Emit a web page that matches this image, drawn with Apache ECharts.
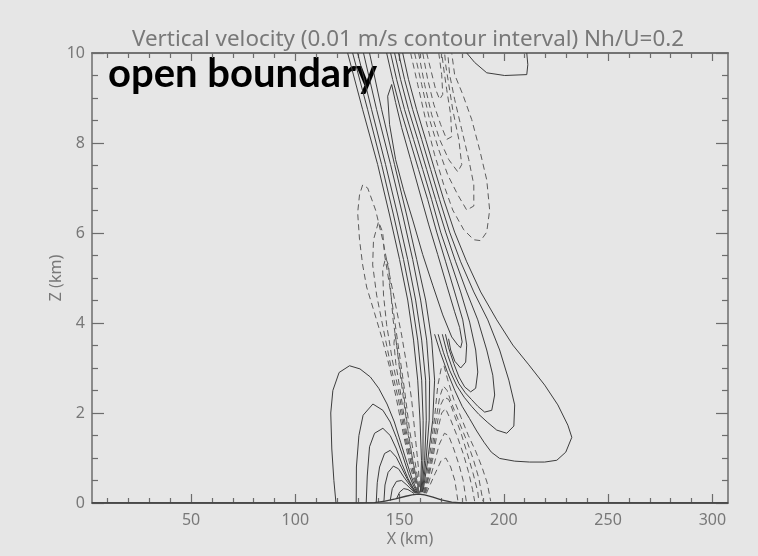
<!DOCTYPE html>
<html>
<head>
<meta charset="utf-8">
<script src="https://cdn.jsdelivr.net/npm/echarts@6.0.0/dist/echarts.min.js"></script>
<style>
  html, body { margin: 0; padding: 0; background: #e6e6e6; }
  #chart { width: 758px; height: 556px; }
</style>
</head>
<body>
<div id="chart"></div>
<script>
// axis ranges and tick values (km)
var xRange = [2.5, 307.5];
var zRange = [0, 10];
var xMajorTicks = [50, 100, 150, 200, 250, 300];
var xMinorTicks = [10, 20, 30, 40, 60, 70, 80, 90, 110, 120, 130, 140, 160, 170, 180, 190,
                   210, 220, 230, 240, 260, 270, 280, 290];

// terrain (hill near x=159 km)
var terrain = [[2.5,0],[130,0],[138,0.01],[143,0.04],[148,0.09],[153,0.15],[156,0.18],[159,0.2],
               [162,0.18],[166,0.13],[170,0.07],[175,0.02],[180,0],[307.5,0]];

// upwind positive lobe (solid), outer to inner
var lobeA1 = [[119.5,0],[118.5,0.5],[117.5,1.2],[117,2.0],[118,2.5],[121,2.9],[126,3.05],[131,2.98],[136,2.8],
              [140,2.55],[144,2.2],[147.5,1.8],[150.5,1.35],[153.5,0.9],[156.3,0.5],[158.8,0.22]];
var lobeA2 = [[129.2,0],[129.3,0.8],[130.5,1.5],[132.5,1.95],[137.2,2.2],[142,2.06],[145.5,1.8],[148.5,1.45],
              [151.5,1.05],[154.3,0.65],[156.5,0.4],[158.5,0.22]];
var lobeA3 = [[134,0],[134.5,0.6],[135.6,1.25],[138,1.55],[142,1.66],[145.5,1.5],[148.5,1.2],[151.3,0.85],
              [154,0.55],[156.3,0.35],[158.2,0.22]];
var lobeA4 = [[138.8,0.01],[139.3,0.45],[140.4,0.8],[142.8,1.1],[145.5,1.17],[148.4,1.02],[151,0.78],[153.5,0.55],
              [155.8,0.37],[157.9,0.22]];
var lobeA5 = [[142.5,0.03],[143,0.4],[144.5,0.68],[147,0.82],[149.5,0.76],[152,0.58],[154.5,0.42],[157.6,0.22]];
var lobeA6 = [[145.5,0.05],[146.5,0.32],[148.5,0.48],[151,0.5],[153.5,0.4],[155.5,0.31],[157.3,0.22]];
var lobeA7 = [[148.5,0.09],[150,0.24],[152,0.32],[154,0.3],[155.7,0.25],[157,0.21]];

// tilted updraft band (solid), left flank lines from the top down to the hill
var bandB1 = [[125.1,10],[132.3,8.74],[139.5,7.52],[145.2,6.40],[150.0,5.41],[153.9,4.51],[156.7,3.62],[158.7,2.73],[159.8,1.84],[160.5,0.95],[160.0,0.24]];
var bandB2 = [[127.5,10],[134.7,8.74],[141.4,7.52],[147.1,6.40],[151.9,5.41],[155.8,4.51],[158.7,3.62],[160.6,2.73],[161.3,1.84],[161.2,0.95],[160.3,0.24]];
var bandB3 = [[129.9,10],[136.6,8.74],[143.3,7.52],[149.1,6.40],[153.9,5.41],[157.7,4.51],[160.6,3.62],[162.5,2.73],[162.8,1.84],[162.0,0.95],[160.6,0.24]];
var bandB4 = [[132.7,10],[139.0,8.74],[145.7,7.52],[151.5,6.40],[156.3,5.41],[160.1,4.51],[163.0,3.62],[164.4,2.73],[164.2,1.84],[162.7,0.95],[160.9,0.24]];
var bandB5 = [[135.6,10],[141.4,8.74],[147.6,7.52],[153.4,6.40],[158.2,5.41],[162.5,4.51],[165.4,3.62],[166.8,2.73],[165.9,1.84],[163.5,0.95],[161.2,0.24]];

// inner tongue (closed, solid)
var tongueT1 = [[146.2,9.30],[144.3,9.04],[145.2,8.41],[148.1,7.63],[151.9,6.96],[156.3,6.29],[161.1,5.52],[165.9,4.84],
                [170.7,4.18],[175.0,3.69],[177.9,3.51],[179.3,3.45],[180.0,3.58],[178.8,3.90],[176.4,4.25],[172.6,4.84],
                [168.3,5.52],[164.0,6.18],[159.6,6.91],[155.3,7.63],[151.0,8.34],[148.1,8.90],[146.2,9.30]];

// right flank lines of the band with their lower lobes (solid), outer to inner
var lobeR1 = [[151.5,10],[154.3,9.41],[158.2,8.74],[162.5,8.08],[166.8,7.41],[171.2,6.74],[176.4,6.02],[182.2,5.36],
              [188.9,4.69],[196.6,4.07],[204.3,3.51],[212.0,3.07],[219.6,2.62],[225.9,2.18],[230.7,1.73],[232.6,1.46],
              [229.7,1.13],[225.4,0.95],[219.6,0.91],[212.4,0.91],[205.2,0.93],[198.0,0.99],[194,1.13],[190.5,1.35],
              [187,1.6],[183.5,1.88],[180,2.15],[176.5,2.5],[173,2.9],[169.5,3.35],[166.8,3.75]];
var lobeR2 = [[149.5,10],[152.4,9.41],[156.3,8.74],[160.6,8.08],[164.9,7.41],[169.2,6.74],[174.0,6.02],[179.3,5.36],
              [185.6,4.69],[192.3,4.07],[198.0,3.40],[202.4,2.73],[205.2,2.18],[204.8,1.71],[201.4,1.55],[196.6,1.62],
              [192,1.8],[188,1.97],[184.5,2.15],[181,2.35],[177.5,2.6],[174,2.95],[171,3.35],[168.5,3.75]];
var lobeR3 = [[147.6,10],[150.5,9.41],[154.3,8.74],[158.7,8.08],[163.0,7.41],[167.3,6.74],[172.1,6.02],[176.9,5.36],
              [182.2,4.69],[187.5,4.07],[191.8,3.40],[194.7,2.84],[195.6,2.40],[194.2,2.06],[190.8,2.02],[187.5,2.15],
              [184.5,2.3],[181.5,2.45],[178.5,2.65],[176,2.9],[173,3.3],[170.5,3.75]];
var lobeR4 = [[145.7,10],[148.6,9.41],[152.4,8.74],[156.7,8.08],[161.1,7.41],[165.4,6.74],[169.7,6.02],[174.5,5.36],
              [179.3,4.69],[183.6,4.02],[186.5,3.40],[187.5,2.91],[186.5,2.55],[184.1,2.47],[181.2,2.58],[178.5,2.8],
              [176,3.1],[173.5,3.45],[172,3.75]];
var lobeR5 = [[143.8,10],[146.7,9.41],[150.5,8.74],[154.8,8.08],[159.1,7.41],[163.5,6.74],[167.8,6.02],[172.1,5.36],
              [176.4,4.69],[180.3,4.07],[182.2,3.51],[181.7,3.13],[179.3,3.0],[176.5,3.15],[174.5,3.4],[173.5,3.65]];

// small positive loop at the top boundary (solid)
var topLoop = [[182.2,10],[186.0,9.79],[191.8,9.56],[200.4,9.50],[211.0,9.52],[211.5,9.74],[211.0,10]];

// negative band left of the updraft (dashed), outer to inner
var negD1a = [[159.0,0.22],[157.3,0.45],[155,0.84],[151.9,1.51],[148.6,2.29],[145.2,3.02],[141.4,3.69],[138.0,4.22],
              [134.2,4.80],[132.3,5.29],[130.8,5.85],[129.9,6.45],[130.8,6.85],[132.3,7.07],[134.7,7.00],[138.5,6.51],
              [141.9,5.85],[145.2,5.07],[148.1,4.40],[151.0,3.73],[153.4,3.07],[155.8,2.29],[157.7,1.40],[159.0,0.8],[159.75,0.22]];
var negD1b = [[159.15,0.22],[157.8,0.45],[156,0.8],[152.9,1.40],[149.5,2.29],[145.7,3.07],[142.3,3.85],[139.0,4.62],
              [137.1,5.29],[137.5,5.85],[139.9,6.25],[141.9,6.02],[142.8,5.52],[145.2,4.84],[147.6,4.07],[150.0,3.29],
              [152.4,2.51],[154.8,1.62],[157.5,0.9],[158.8,0.5],[159.6,0.22]];
var negD1c = [[159.3,0.22],[157.3,0.55],[155,1.0],[152.6,1.62],[149.9,2.40],[146.5,3.18],[143.8,3.96],[142.3,4.62],
              [141.9,5.18],[143.3,5.45],[144.7,5.29],[145.7,4.74],[146.9,4.07],[149.3,3.29],[151.8,2.51],[154,1.62],
              [156.3,0.95],[158.3,0.5],[159.45,0.22]];
var negD1d = [[159.35,0.22],[157.5,0.6],[155.4,1.05],[153.2,1.6],[150.8,2.35],[148.2,3.1],[147.3,3.55],[147.8,3.75],
              [148.6,3.5],[150.2,2.9],[152.2,2.2],[154.2,1.5],[156.2,0.98],[158.2,0.52],[159.4,0.22]];

// negative loops right of the band near the top (dashed), inner to outer
var negD2a = [[163.0,10],[164.9,9.64],[167.3,9.19],[169.2,8.97],[170.7,9.08],[170.2,9.52],[168.8,10]];
var negD2b = [[161.1,10],[163.5,9.41],[166.4,8.86],[169.7,8.41],[172.6,8.08],[175.0,8.14],[174.5,8.63],[172.6,9.19],[171.2,9.64],[170.2,10]];
var negD2c = [[159.1,10],[162.0,9.30],[165.4,8.63],[169.2,8.08],[173.6,7.63],[177.9,7.36],[179.8,7.52],[178.4,8.08],
              [175.5,8.74],[173.6,9.30],[172.1,9.74],[171.6,10]];
var negD2d = [[157.2,10],[160.6,9.30],[164.4,8.52],[168.8,7.85],[173.1,7.29],[177.9,6.85],[182.2,6.51],[185.6,6.60],
              [185.6,7.07],[183.2,7.63],[179.8,8.30],[176.4,8.97],[174.0,9.52],[173.1,10]];
var negD2e = [[155.3,10],[158.7,9.30],[162.5,8.52],[166.8,7.74],[171.2,7.07],[175.5,6.51],[180.8,6.07],[185.6,5.85],
              [188.9,5.83],[191.8,6.02],[193.2,6.51],[191.8,7.18],[188.4,7.85],[184.6,8.52],[180.3,9.08],[176.4,9.52],[175.0,10]];

// lee-side negative region near the ground (dashed), outer to inner
var negD3a = [[161.6,0.22],[164.3,1.0],[166.8,1.9],[168.3,2.6],[170,3.0],[171.3,3.05],[173,2.75],[176,2.3],[179.5,1.9],
              [183,1.5],[186.5,1.15],[189.5,0.8],[192,0.45],[193.7,0.04]];
var negD3b = [[161.9,0.22],[165,1.0],[167.3,1.8],[169.2,2.35],[171,2.6],[172.8,2.5],[175.5,2.15],[179,1.75],[182.5,1.35],
              [185.5,0.95],[188,0.55],[190,0.04]];
var negD3c = [[162.05,0.22],[165.4,0.97],[167.8,1.7],[169.7,2.18],[171.5,2.35],[173.6,2.3],[176.3,1.95],[179.5,1.55],
              [182.8,1.05],[185.3,0.65],[187.5,0.25],[188,0.04]];
var negD3d = [[162.2,0.22],[165.8,0.95],[168.2,1.6],[170.2,2.0],[172,2.1],[174.5,1.85],[177.5,1.5],[180.5,1.1],[183,0.7],
              [185,0.3],[186,0.04]];
var negD3e = [[162.5,0.22],[166.5,0.85],[169,1.3],[171.5,1.55],[173.5,1.5],[176,1.2],[178.5,0.85],[180.5,0.5],[182,0.04]];
var negD3f = [[162.8,0.21],[167,0.65],[170,0.95],[172.2,1.0],[174.5,0.8],[176.5,0.5],[178,0.04]];

var solidLines = [lobeA1, lobeA2, lobeA3, lobeA4, lobeA5, lobeA6, lobeA7,
                  bandB1, bandB2, bandB3, bandB4, bandB5, tongueT1,
                  lobeR1, lobeR2, lobeR3, lobeR4, lobeR5, topLoop];
var dashedLines = [negD1a, negD1b, negD1c, negD1d, negD2a, negD2b, negD2c, negD2d, negD2e,
                   negD3a, negD3b, negD3c, negD3d, negD3e, negD3f];

var axisColor = '#6c6c6c';
var textColor = '#787878';
var font = 'Noto Sans';

function contour(data, dashed) {
    return {
        type: 'line',
        data: data,
        symbol: 'none',
        silent: true,
        lineStyle: {
            color: dashed ? '#5c5c5c' : '#3c3c3c',
            width: 1,
            type: dashed ? [6, 4] : 'solid'
        }
    };
}

function xAxisDef(position, ticks, len, withLabels) {
    return {
        type: 'value', position: position, min: xRange[0], max: xRange[1],
        axisLine: { show: true, onZero: false, lineStyle: { color: axisColor, width: 1.5 } },
        axisTick: { show: true, inside: true, length: len, customValues: ticks,
                    lineStyle: { color: axisColor, width: 1.2 } },
        axisLabel: withLabels
            ? { show: true, customValues: ticks, color: textColor, fontSize: 16, margin: 9, fontFamily: font }
            : { show: false },
        splitLine: { show: false },
        name: withLabels ? 'X (km)' : '',
        nameLocation: 'middle', nameGap: 28, nameMoveOverlap: false,
        nameTextStyle: { color: textColor, fontSize: 16, fontFamily: font }
    };
}

function yAxisDef(position, withLabels) {
    return {
        type: 'value', position: position, min: zRange[0], max: zRange[1], interval: 2,
        axisLine: { show: true, onZero: false, lineStyle: { color: axisColor, width: 1.5 } },
        axisTick: { show: true, inside: true, length: 12, lineStyle: { color: axisColor, width: 1.2 } },
        minorTick: { show: true, splitNumber: 4, length: 6, lineStyle: { color: axisColor, width: 1.2 } },
        axisLabel: withLabels
            ? { show: true, color: textColor, fontSize: 16, margin: 7, fontFamily: font }
            : { show: false },
        splitLine: { show: false },
        minorSplitLine: { show: false },
        name: withLabels ? 'Z (km)' : '',
        nameLocation: 'middle', nameGap: 28, nameRotate: 90, nameMoveOverlap: false,
        nameTextStyle: { color: textColor, fontSize: 16, fontFamily: font }
    };
}

var chart = echarts.init(document.getElementById('chart'), null, { renderer: 'canvas' });

var series = [];
solidLines.forEach(function (d) { series.push(contour(d, false)); });
dashedLines.forEach(function (d) { series.push(contour(d, true)); });
series.push({
    type: 'line', data: terrain, symbol: 'none', silent: true,
    lineStyle: { color: '#3c3c3c', width: 1.3 }
});

chart.setOption({
    animation: false,
    backgroundColor: '#e6e6e6',
    title: {
        text: 'Vertical velocity (0.01 m/s contour interval) Nh/U=0.2',
        left: 403, top: 24, textAlign: 'center',
        textStyle: { color: textColor, fontSize: 22.4, fontWeight: 'normal', fontFamily: font }
    },
    grid: { left: 92, right: 30, top: 53, bottom: 53, containLabel: false },
    xAxis: [
        xAxisDef('bottom', xMajorTicks, 9, true),
        xAxisDef('top', xMajorTicks, 8, false),
        xAxisDef('bottom', xMinorTicks, 5, false),
        xAxisDef('top', xMinorTicks, 5, false)
    ],
    yAxis: [yAxisDef('left', true), yAxisDef('right', false)],
    graphic: [{
        type: 'text', left: 108, top: 54, silent: true,
        style: { text: 'open boundary', font: 'bold 40px Lato', fill: '#000000' }
    }],
    series: series
});
</script>
</body>
</html>
